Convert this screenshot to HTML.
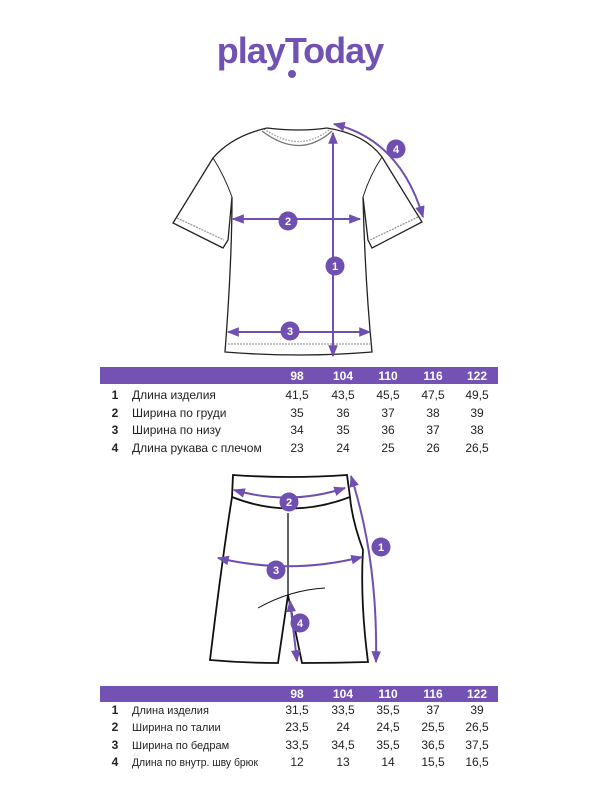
<!DOCTYPE html>
<html><head><meta charset="utf-8"><style>
html,body{margin:0;padding:0;background:#fff;width:600px;height:800px;overflow:hidden}
svg{display:block}
text{font-family:"Liberation Sans","DejaVu Sans",sans-serif}
</style></head><body>
<svg width="600" height="800" viewBox="0 0 600 800" xmlns="http://www.w3.org/2000/svg">
<defs>
<marker id="a" viewBox="0 0 10 10" refX="9" refY="5" markerWidth="6" markerHeight="6" orient="auto-start-reverse"><path d="M0,1 L10,5 L0,9 z" fill="#6f4fb0"/></marker>
</defs>
<text x="300" y="63" text-anchor="middle" font-size="36" font-weight="bold" fill="#7052b4" letter-spacing="-1">playToday</text>
<circle cx="292" cy="74" r="4" fill="#7052b4"/>

<g fill="none" stroke="#222" stroke-width="1.3">
<path d="M267,128 Q300,132 327,128"/>
<path d="M262,131 Q300,160 332,131" stroke="#777"/>
<path d="M264,129 Q300,154 330,129" stroke="#999" stroke-dasharray="1.5,1.5"/>
<path d="M267,128 Q232,136 213,158 L173,223 L223,248 L228,240 L232,197 Q232,260 225,352 Q300,358 372,352 Q365,280 363,197 L368,240 L372,248 L422,222 L382,157 Q365,134 327,128"/>
<path d="M213,158 Q224,175 232,197 M382,157 Q370,175 363,197" stroke-width="1"/>
<path d="M177,218 L224,240 M418,217 L370,240 M228,344 L370,344" stroke="#999" stroke-dasharray="2,1"/>
</g>
<g stroke="#6f4fb0" stroke-width="2" fill="none">
<line x1="333" y1="133" x2="333" y2="356" marker-start="url(#a)" marker-end="url(#a)"/>
<line x1="233" y1="219" x2="360" y2="219" marker-start="url(#a)" marker-end="url(#a)"/>
<line x1="228" y1="332" x2="370" y2="332" marker-start="url(#a)" marker-end="url(#a)"/>
<path d="M334,124 Q400,140 423,217" marker-start="url(#a)" marker-end="url(#a)"/>
</g>
<g fill="#6f4fb0"><circle cx="335" cy="266" r="9.5"/><circle cx="288" cy="221" r="9.5"/><circle cx="290" cy="331" r="9.5"/><circle cx="396" cy="149" r="9.5"/></g>
<g fill="#fff" font-size="11" font-weight="bold" text-anchor="middle">
<text x="335" y="270">1</text><text x="288" y="225">2</text><text x="290" y="335">3</text><text x="396" y="153">4</text></g>

<rect x="100" y="367" width="398" height="17" fill="#7352b3"/>
<g fill="#fff" font-size="12" font-weight="bold" text-anchor="middle">
<text x="297" y="380">98</text><text x="343" y="380">104</text><text x="388" y="380">110</text><text x="433" y="380">116</text><text x="477" y="380">122</text></g>
<g fill="#222" font-size="12">
<g font-weight="bold" text-anchor="middle"><text x="115" y="399">1</text><text x="115" y="417">2</text><text x="115" y="434">3</text><text x="115" y="452">4</text></g>
<text x="132" y="399">Длина изделия</text><text x="132" y="417">Ширина по груди</text><text x="132" y="434">Ширина по низу</text><text x="132" y="452">Длина рукава с плечом</text>
<g text-anchor="middle">
<text x="297" y="399">41,5</text><text x="343" y="399">43,5</text><text x="388" y="399">45,5</text><text x="433" y="399">47,5</text><text x="477" y="399">49,5</text>
<text x="297" y="417">35</text><text x="343" y="417">36</text><text x="388" y="417">37</text><text x="433" y="417">38</text><text x="477" y="417">39</text>
<text x="297" y="434">34</text><text x="343" y="434">35</text><text x="388" y="434">36</text><text x="433" y="434">37</text><text x="477" y="434">38</text>
<text x="297" y="452">23</text><text x="343" y="452">24</text><text x="388" y="452">25</text><text x="433" y="452">26</text><text x="477" y="452">26,5</text>
</g></g>

<g fill="none" stroke="#111" stroke-width="1.8">
<path d="M233,475 Q290,479 347,475 L350,497 Q290,520 232,497 Z"/>
<path d="M232,497 Q222,560 210,660 Q244,663 278,663 L288,595 L302,663 Q335,663 368,662 Q360,600 363,550 Q352,520 350,497"/>
<line x1="288" y1="513" x2="288" y2="595" stroke-width="1.3"/>
<path d="M258,608 Q290,590 325,588" stroke-width="1"/>
</g>
<g stroke="#6f4fb0" stroke-width="2" fill="none">
<path d="M351,476 Q378,560 376,662" marker-start="url(#a)" marker-end="url(#a)"/>
<path d="M234,490 Q290,506 345,488" marker-start="url(#a)" marker-end="url(#a)"/>
<path d="M218,558 Q290,575 362,557" marker-start="url(#a)" marker-end="url(#a)"/>
<line x1="290" y1="601" x2="297" y2="661" marker-start="url(#a)" marker-end="url(#a)"/>
</g>
<g fill="#6f4fb0"><circle cx="381" cy="547" r="9.5"/><circle cx="289" cy="502" r="9.5"/><circle cx="276" cy="570" r="9.5"/><circle cx="300" cy="623" r="9.5"/></g>
<g fill="#fff" font-size="11" font-weight="bold" text-anchor="middle">
<text x="381" y="551">1</text><text x="289" y="506">2</text><text x="276" y="574">3</text><text x="300" y="627">4</text></g>

<rect x="100" y="686" width="398" height="16" fill="#7352b3"/>
<g fill="#fff" font-size="12" font-weight="bold" text-anchor="middle">
<text x="297" y="698">98</text><text x="343" y="698">104</text><text x="388" y="698">110</text><text x="433" y="698">116</text><text x="477" y="698">122</text></g>
<g fill="#222">
<g font-size="12" font-weight="bold" text-anchor="middle"><text x="115" y="714">1</text><text x="115" y="731">2</text><text x="115" y="749">3</text><text x="115" y="766">4</text></g>
<g font-size="11"><text x="132" y="714">Длина изделия</text><text x="132" y="731">Ширина по талии</text><text x="132" y="749">Ширина по бедрам</text><text x="132" y="766" textLength="126" lengthAdjust="spacingAndGlyphs">Длина по внутр. шву брюк</text></g>
<g font-size="12" text-anchor="middle">
<text x="297" y="714">31,5</text><text x="343" y="714">33,5</text><text x="388" y="714">35,5</text><text x="433" y="714">37</text><text x="477" y="714">39</text>
<text x="297" y="731">23,5</text><text x="343" y="731">24</text><text x="388" y="731">24,5</text><text x="433" y="731">25,5</text><text x="477" y="731">26,5</text>
<text x="297" y="749">33,5</text><text x="343" y="749">34,5</text><text x="388" y="749">35,5</text><text x="433" y="749">36,5</text><text x="477" y="749">37,5</text>
<text x="297" y="766">12</text><text x="343" y="766">13</text><text x="388" y="766">14</text><text x="433" y="766">15,5</text><text x="477" y="766">16,5</text>
</g></g>
</svg>
</body></html>
